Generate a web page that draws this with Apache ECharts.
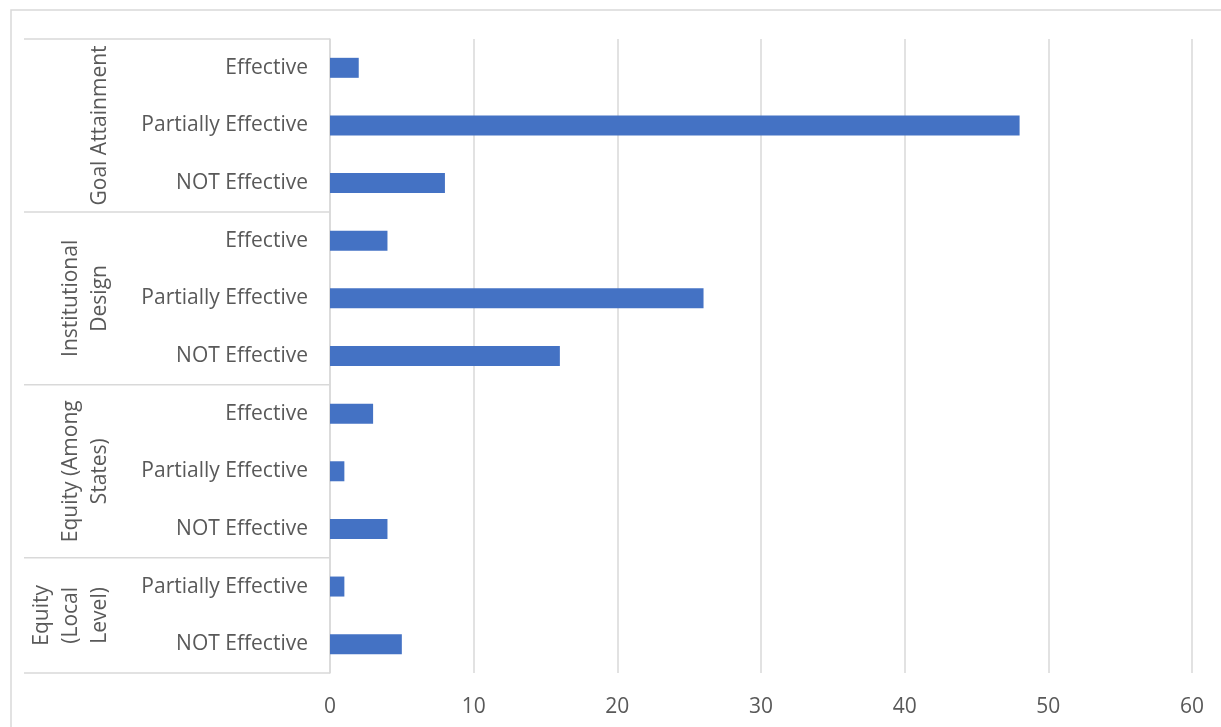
<!DOCTYPE html>
<html>
<head>
<meta charset="utf-8">
<script src="https://cdn.jsdelivr.net/npm/echarts@6/dist/echarts.min.js"></script>
<style>
html,body{margin:0;padding:0;background:#fff;}
#chart{width:1221px;height:727px;}
</style>
</head>
<body>
<div id="chart"></div>
<script>
const groups = ['Goal Attainment', 'Institutional\nDesign', 'Equity (Among\nStates)', 'Equity\n(Local\nLevel)'];
const groupCategories = [
  ['Effective', 'Partially Effective', 'NOT Effective'],
  ['Effective', 'Partially Effective', 'NOT Effective'],
  ['Effective', 'Partially Effective', 'NOT Effective'],
  ['Partially Effective', 'NOT Effective']
];
const groupValues = [
  [2, 48, 8],
  [4, 26, 16],
  [3, 1, 4],
  [1, 5]
];
const xTicks = { min: 0, max: 60, interval: 10 };

const keys = [], labels = {}, values = [];
groupCategories.forEach((cats, g) => {
  cats.forEach((c, i) => {
    const k = g + '|' + i;
    keys.push(k);
    labels[k] = c;
    values.push(groupValues[g][i]);
  });
});

const FONT = '"Open Sans", "Noto Sans", sans-serif';
const TXT = '#595959';
const LINE = '#d9d9d9';
const FS = 21;

const chart = echarts.init(document.getElementById('chart'), null, { renderer: 'canvas' });
const option = {
  animation: false,
  backgroundColor: '#fff',
  grid: { left: 330, right: 29, top: 39, bottom: 54, containLabel: false },
  xAxis: {
    type: 'value',
    min: xTicks.min, max: xTicks.max, interval: xTicks.interval,
    axisLine: { show: false },
    axisTick: { show: false },
    axisLabel: { color: TXT, fontSize: FS, fontFamily: FONT, margin: 24 },
    splitLine: { show: true, lineStyle: { color: LINE, width: 1.5 } }
  },
  yAxis: {
    type: 'category',
    inverse: true,
    data: keys,
    axisLine: { show: true, lineStyle: { color: LINE, width: 1.5 } },
    axisTick: { show: false },
    axisLabel: {
      color: TXT, fontSize: FS, fontFamily: FONT, margin: 22,
      padding: [4, 0, 0, 0],
      formatter: v => labels[v]
    },
    splitLine: { show: false }
  },
  series: [{
    type: 'bar',
    data: values,
    barWidth: 20,
    itemStyle: { color: '#4472C4' },
    silent: true
  }]
};
chart.setOption(option);

// group separators and group labels, positioned through the category axis
const graphics = [];
graphics.push({
  type: 'rect', silent: true,
  shape: { x: 11, y: 10, width: 1300, height: 800 },
  style: { fill: 'none', stroke: LINE, lineWidth: 1.5 }
});
const p0 = chart.convertToPixel({ yAxisIndex: 0 }, keys[0]);
const p1 = chart.convertToPixel({ yAxisIndex: 0 }, keys[1]);
const band = p1 - p0;
let idx = 0;
const bounds = [];
groupCategories.forEach((cats, g) => {
  const first = chart.convertToPixel({ yAxisIndex: 0 }, keys[idx]);
  const last = chart.convertToPixel({ yAxisIndex: 0 }, keys[idx + cats.length - 1]);
  const top = first - band / 2, bottom = last + band / 2;
  bounds.push(top);
  if (g === groupCategories.length - 1) bounds.push(bottom);
  graphics.push({
    type: 'text', silent: true,
    x: 115, y: (top + bottom) / 2,
    rotation: Math.PI / 2,
    style: {
      text: groups[g], fill: TXT, fontSize: FS, fontFamily: FONT,
      align: 'center', verticalAlign: 'bottom', lineHeight: 29
    }
  });
  idx += cats.length;
});
bounds.forEach(y => {
  graphics.push({
    type: 'line', silent: true,
    shape: { x1: 24, y1: y, x2: 330, y2: y },
    style: { stroke: LINE, lineWidth: 1.5 }
  });
});
chart.setOption({ graphic: graphics });
</script>
</body>
</html>
